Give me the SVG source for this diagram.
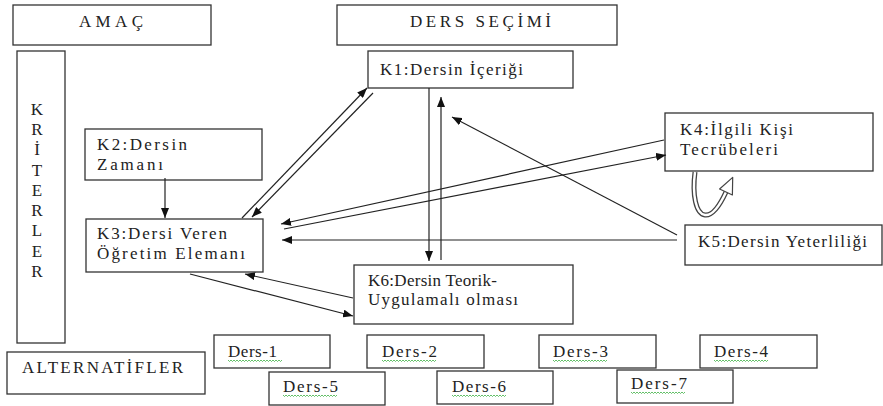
<svg xmlns="http://www.w3.org/2000/svg" width="883" height="406" viewBox="0 0 883 406">
<defs>
<style>
.box{fill:#fff;stroke:#333;stroke-width:1.3}
.c{stroke:#222;stroke-width:1.2;fill:none}
.wavy{stroke:#3cb043;stroke-width:0.8;fill:none}
</style>
<marker id="ah" markerUnits="userSpaceOnUse" markerWidth="10" markerHeight="8" refX="10" refY="4" orient="auto">
<path d="M0,0 L10,4 L0,8 z" fill="#111"/>
</marker>
<path id="wv" class="wavy" d="M0,0 l1.5,1.5 l1.5,-1.5 l1.5,1.5 l1.5,-1.5 l1.5,1.5 l1.5,-1.5 l1.5,1.5 l1.5,-1.5 l1.5,1.5 l1.5,-1.5 l1.5,1.5 l1.5,-1.5 l1.5,1.5 l1.5,-1.5 l1.5,1.5 l1.5,-1.5 l1.5,1.5 l1.5,-1.5 l1.5,1.5 l1.5,-1.5 l1.5,1.5 l1.5,-1.5 l1.5,1.5 l1.5,-1.5 l1.5,1.5 l1.5,-1.5 l1.5,1.5 l1.5,-1.5 l1.5,1.5 l1.5,-1.5 l1.5,1.5 l1.5,-1.5 l1.5,1.5 l1.5,-1.5 l1.5,1.5 l1.5,-1.5"/>
</defs>
<rect width="883" height="406" fill="#fff"/>

<g font-family="Liberation Serif" font-size="17" fill="#222">
<g id="amac"><rect class="box" x="13" y="5" width="198" height="40"/><text x="79" y="27" textLength="64">AMAÇ</text></g>
<g id="ders-secimi"><rect class="box" x="337" y="5" width="280" height="40"/><text x="410" y="27" textLength="141">DERS SEÇİMİ</text></g>
<g id="kriterler"><rect class="box" x="17" y="51" width="48" height="292"/>
<text text-anchor="middle" x="37" y="115">K</text>
<text text-anchor="middle" x="37" y="135">R</text>
<text text-anchor="middle" x="37" y="155">İ</text>
<text text-anchor="middle" x="37" y="176">T</text>
<text text-anchor="middle" x="37" y="196">E</text>
<text text-anchor="middle" x="37" y="216">R</text>
<text text-anchor="middle" x="37" y="236">L</text>
<text text-anchor="middle" x="37" y="257">E</text>
<text text-anchor="middle" x="37" y="277">R</text>
</g>
<g id="k1"><rect class="box" x="368" y="51" width="205" height="37"/><text x="380" y="75" textLength="143">K1:Dersin İçeriği</text></g>
<g id="k2"><rect class="box" x="85" y="129" width="177" height="51"/><text x="97" y="150" textLength="90">K2:Dersin</text><text x="97" y="170" textLength="66">Zamanı</text></g>
<g id="k3"><rect class="box" x="86" y="219" width="177" height="53"/><text x="97" y="239" textLength="130">K3:Dersi Veren</text><text x="97" y="259" textLength="148">Öğretim Elemanı</text></g>
<g id="k4"><rect class="box" x="665" y="113" width="208" height="58"/><text x="680" y="135" textLength="113">K4:İlgili Kişi</text><text x="680" y="155" textLength="98">Tecrübeleri</text></g>
<g id="k5"><rect class="box" x="685" y="225" width="197" height="40"/><text x="698" y="247" textLength="169">K5:Dersin Yeterliliği</text></g>
<g id="k6"><rect class="box" x="354" y="265" width="219" height="59"/><text x="368" y="286" textLength="129">K6:Dersin Teorik-</text><text x="368" y="305" textLength="150">Uygulamalı olması</text></g>
<g id="alternatifler"><rect class="box" x="7" y="352" width="198" height="42"/><text x="22" y="373" textLength="161">ALTERNATİFLER</text></g>

<g id="ders-1"><rect class="box" x="214" y="335" width="116" height="33"/><text x="228" y="357" textLength="49">Ders-1</text><use href="#wv" x="228" y="360"/></g>
<g id="ders-2"><rect class="box" x="367" y="335" width="117" height="33"/><text x="382" y="357" textLength="55">Ders-2</text><use href="#wv" x="382" y="360"/></g>
<g id="ders-3"><rect class="box" x="539" y="335" width="117" height="33"/><text x="553" y="357" textLength="55">Ders-3</text><use href="#wv" x="553" y="360"/></g>
<g id="ders-4"><rect class="box" x="700" y="335" width="117" height="33"/><text x="714" y="357" textLength="54">Ders-4</text><use href="#wv" x="714" y="360"/></g>
<g id="ders-5"><rect class="box" x="269" y="372" width="116" height="33"/><text x="283" y="392" textLength="55">Ders-5</text><use href="#wv" x="283" y="395"/></g>
<g id="ders-6"><rect class="box" x="437" y="371" width="116" height="33"/><text x="452" y="392" textLength="54">Ders-6</text><use href="#wv" x="452" y="395"/></g>
<g id="ders-7"><rect class="box" x="617" y="370" width="116" height="33"/><text x="631" y="389" textLength="56">Ders-7</text><use href="#wv" x="631" y="392"/></g>
</g>

<g id="connectors">
<line class="c" x1="242" y1="218" x2="367" y2="88" marker-end="url(#ah)"/>
<line class="c" x1="373" y1="93" x2="252" y2="217" marker-end="url(#ah)"/>
<line class="c" x1="429" y1="88" x2="429" y2="261" marker-end="url(#ah)"/>
<line class="c" x1="441" y1="260" x2="441" y2="97" marker-end="url(#ah)"/>
<line class="c" x1="677" y1="235" x2="452" y2="117" marker-end="url(#ah)"/>
<line class="c" x1="664" y1="140" x2="281" y2="224" marker-end="url(#ah)"/>
<line class="c" x1="284" y1="229" x2="666" y2="155" marker-end="url(#ah)"/>
<line class="c" x1="677" y1="240" x2="282" y2="240" marker-end="url(#ah)"/>
<line class="c" x1="353" y1="298" x2="245" y2="274" marker-end="url(#ah)"/>
<line class="c" x1="190" y1="274" x2="353" y2="316" marker-end="url(#ah)"/>
<line class="c" x1="165" y1="178" x2="165" y2="218" marker-end="url(#ah)"/>
<g id="k4-self-loop">
<path d="M695,172 C692,195 696,214 705,215 C713,216 720,205 726,192" fill="none" stroke="#444" stroke-width="5"/>
<path d="M695,172 C692,195 696,214 705,215 C713,216 720,205 726,192" fill="none" stroke="#fff" stroke-width="2.4"/>
<path d="M719.6,189 L732.7,177.4 L732.4,195 z" fill="#fff" stroke="#444" stroke-width="1.2" stroke-linejoin="round"/>
</g>
</g>
</svg>
